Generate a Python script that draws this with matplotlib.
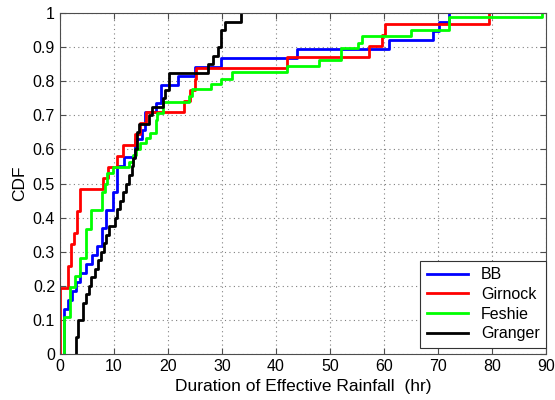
import numpy as np
import matplotlib
matplotlib.use('Agg')
import matplotlib.pyplot as plt

plt.rcParams['font.family'] = ['Liberation Sans', 'DejaVu Sans']

# step positions (hr) and CDF level reached at each step
bb_x = [0.74, 1.5, 2.2, 3.0, 3.7, 4.9, 5.9, 6.8, 7.7, 8.6, 9.9, 10.6, 11.9, 13.9, 15.1, 15.7,
        17.8, 18.8, 21.9, 25.0, 29.9, 43.9, 61.0, 69.0, 70.1, 72.1]
bb_n = [5, 6, 7, 8, 9, 10, 11, 12, 14, 16, 18, 21, 22, 24, 25, 27,
        28, 30, 31, 32, 33, 34, 35, 36, 37, 38]
bb_y = [n / 38 for n in bb_n]

girnock_x = [0.0, 1.5, 2.0, 2.6, 3.2, 3.7, 8.0, 8.9, 10.6, 11.6, 13.9, 14.8, 15.9, 23.0, 24.1,
             25.0, 25.2, 42.0, 57.2, 59.7, 60.2, 79.5]
girnock_n = [6, 8, 10, 11, 13, 15, 16, 17, 18, 19, 20, 21, 22, 23, 24,
             25, 26, 27, 28, 29, 30, 31]
girnock_y = [n / 31 for n in girnock_n]

feshie_x = [0.8, 1.8, 2.7, 3.8, 4.8, 5.7, 7.7, 8.3, 8.8, 9.9, 12.8, 13.6, 14.0, 14.8, 15.9, 16.7,
            17.8, 18.0, 19.0, 23.8, 24.5, 27.9, 29.9, 31.9, 42.0, 48.0, 52.0, 55.1, 56.0, 65.0,
            72.1, 89.2]
feshie_y = [0.108, 0.196, 0.229, 0.282, 0.368, 0.422, 0.476, 0.50, 0.53, 0.549, 0.564, 0.584,
            0.60, 0.618, 0.632, 0.649, 0.686, 0.706, 0.74, 0.757, 0.776, 0.792, 0.806, 0.828,
            0.845, 0.862, 0.896, 0.913, 0.933, 0.95, 0.987, 1.0]

granger_x = [3.0, 3.4, 4.3, 4.9, 5.3, 5.8, 6.4, 7.1, 7.6, 8.2, 8.6, 9.1, 10.1, 10.5, 11.1, 11.7,
             12.3, 12.8, 13.3, 13.6, 13.9, 14.2, 14.7, 16.4, 17.0, 19.1, 19.5, 20.2, 27.5, 28.4,
             29.3, 29.8, 30.6, 33.5]
granger_n = [2, 4, 6, 7, 8, 9, 10, 11, 12, 13, 14, 15, 16, 17, 18, 19,
             20, 21, 22, 23, 24, 26, 27, 28, 29, 30, 31, 33, 34, 35,
             36, 38, 39, 40]
granger_y = [n / 40 for n in granger_n]

series = [('BB', bb_x, bb_y, 'blue'),
          ('Girnock', girnock_x, girnock_y, 'red'),
          ('Feshie', feshie_x, feshie_y, (0, 1, 0)),
          ('Granger', granger_x, granger_y, 'black')]

fig = plt.figure(figsize=(5.55, 4.0), dpi=100)
ax = fig.add_axes([0.108, 0.115, 0.876, 0.8525])

for name, xs, ys, c in series:
    px = [xs[0]] + list(xs)
    py = [0] + list(ys)
    ax.step(px, py, where='post', color=c, lw=2, label=name)

ax.set_xlim(0, 90)
ax.set_ylim(0, 1)
ax.set_xticks(np.arange(0, 91, 10))
ax.set_yticks(np.arange(0, 1.01, 0.1))
ax.set_yticklabels(['0', '0.1', '0.2', '0.3', '0.4', '0.5', '0.6', '0.7', '0.8', '0.9', '1'])
ax.grid(True, linestyle=(0, (1, 3)), color='0.5', linewidth=0.8)
ax.tick_params(direction='in', top=True, right=True, labelsize=11.5, color='0.3', length=4)
for s in ax.spines.values():
    s.set_color('0.3')

ax.set_xlabel('Duration of Effective Rainfall  (hr)', fontsize=12.5)
ax.set_ylabel('CDF', fontsize=12.5)

leg = ax.legend(loc='lower right', bbox_to_anchor=(1.0, 0.018), borderaxespad=0,
                fancybox=False, edgecolor='0.2', fontsize=11.5, handlelength=2.6,
                labelspacing=0.3, framealpha=1)
leg.get_frame().set_linewidth(0.8)

fig.savefig('out.png', dpi=100)
